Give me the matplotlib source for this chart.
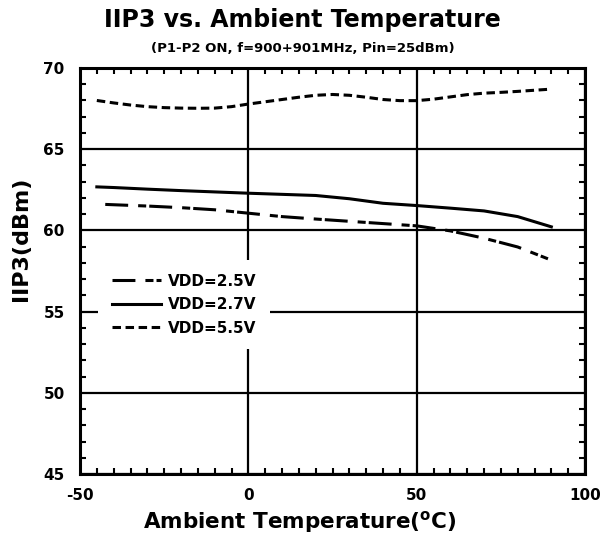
import matplotlib
matplotlib.use("Agg")
import matplotlib.pyplot as plt
from matplotlib.ticker import MultipleLocator

plt.rcParams['font.family'] = ['DejaVu Sans']
plt.rcParams['font.weight'] = 'bold'
plt.rcParams['lines.scale_dashes'] = False
plt.rcParams['mathtext.default'] = 'bf'
plt.rcParams['axes.unicode_minus'] = False

# ---- data ----
temp_25 = [-42.5, -30, -20, -10, 0, 10, 20, 30, 40, 50, 60, 70, 80, 89]
iip3_25 = [61.6, 61.5, 61.4, 61.27, 61.06, 60.85, 60.7, 60.56, 60.42, 60.28, 59.97, 59.52, 58.98, 58.25]

temp_27 = [-45, -40, -30, -20, -10, 0, 10, 20, 30, 40, 50, 60, 70, 80, 90]
iip3_27 = [62.68, 62.64, 62.54, 62.45, 62.37, 62.29, 62.22, 62.15, 61.95, 61.67, 61.53, 61.37, 61.2, 60.85, 60.22]

temp_55 = [-45, -40, -35, -30, -25, -20, -15, -10, -5, 0, 5, 10, 15, 20, 25, 30,
           35, 40, 45, 50, 55, 60, 65, 70, 75, 80, 85, 90]
iip3_55 = [68.0, 67.85, 67.72, 67.62, 67.56, 67.53, 67.52, 67.53, 67.62, 67.78, 67.92, 68.06,
           68.2, 68.32, 68.37, 68.32, 68.2, 68.06, 67.99, 67.99, 68.08, 68.22, 68.36, 68.45,
           68.5, 68.56, 68.63, 68.7]

labels = ["VDD=2.5V", "VDD=2.7V", "VDD=5.5V"]
x_ticks = [-50, 0, 50, 100]
y_ticks = [45, 50, 55, 60, 65, 70]

W, H = 605, 538
fig = plt.figure(figsize=(W / 100, H / 100), dpi=100)
ax = fig.add_axes([80 / W, 64 / H, 505 / W, 406 / H])

lw = 2.2
ax.plot(temp_25, iip3_25, color='black', lw=lw, linestyle=(0, (16.5, 7.2, 5.8, 2.2)),
        dash_capstyle='butt', label=labels[0])
ax.plot(temp_27, iip3_27, color='black', lw=lw, linestyle='-', label=labels[1])
ax.plot(temp_55, iip3_55, color='black', lw=lw, linestyle=(0, (6.1, 3.3)),
        dash_capstyle='butt', label=labels[2])

ax.set_xlim(-50, 100)
ax.set_ylim(45, 70)
ax.set_xticks(x_ticks)
ax.set_yticks(y_ticks)
ax.xaxis.set_minor_locator(MultipleLocator(5))
ax.yaxis.set_minor_locator(MultipleLocator(1))
ax.grid(True, which='major', color='black', lw=1.6)
ax.set_axisbelow(True)
for s in ax.spines.values():
    s.set_linewidth(2.2)
ax.tick_params(which='both', direction='in', top=True, right=True, width=1.5, labelsize=11)
ax.tick_params(which='major', length=0)
ax.tick_params(which='minor', length=4)
ax.tick_params(axis='x', which='major', pad=10)
ax.tick_params(axis='y', which='major', pad=11)
for lab in ax.get_xticklabels() + ax.get_yticklabels():
    lab.set_fontweight('bold')

ax.set_xlabel(r'Ambient Temperature($^{o}$C)', fontsize=15.5, fontweight='bold')
ax.xaxis.label.set_verticalalignment('center')
ax.xaxis.set_label_coords((300 - 80) / 505, (474 - 522) / 406)
ax.set_ylabel('IIP3(dBm)', fontsize=16, fontweight='bold')
ax.yaxis.label.set_verticalalignment('center')
ax.yaxis.set_label_coords((21 - 80) / 505, (474 - 239) / 406)

fig.text(0.5, 1 - 27 / H, 'IIP3 vs. Ambient Temperature', ha='center', va='baseline',
         fontsize=17, fontweight='bold')
fig.text(0.5, 1 - 52 / H, '(P1-P2 ON, f=900+901MHz, Pin=25dBm)', ha='center', va='baseline',
         fontsize=9.5, fontweight='bold')

leg = ax.legend(loc='upper left', bbox_to_anchor=((98 - 80) / 505, (474 - 260) / 406),
                frameon=True, fancybox=False, edgecolor='none', facecolor='white',
                framealpha=1, fontsize=11, handlelength=3.2, handletextpad=0.45,
                labelspacing=0.55, borderpad=0.9, borderaxespad=0)
for t in leg.get_texts():
    t.set_fontweight('bold')

fig.savefig('out.png', dpi=100)
